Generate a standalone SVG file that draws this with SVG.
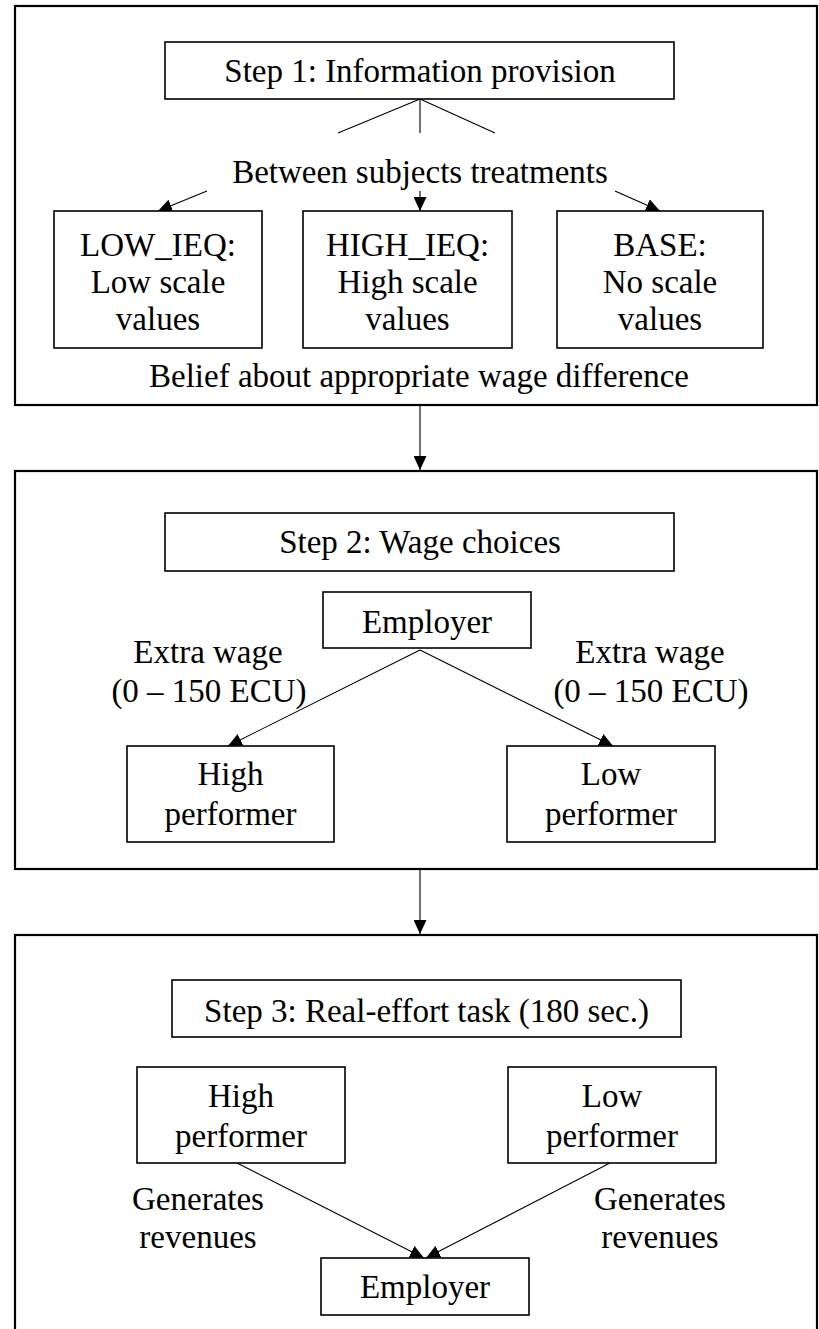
<svg xmlns="http://www.w3.org/2000/svg" width="819" height="1329" viewBox="0 0 819 1329">
<style>
.frame{fill:#fff;stroke:#000;stroke-width:2.2}
.box{fill:#fff;stroke:#000;stroke-width:1.6}
.t{font-family:"Liberation Serif","Times New Roman",serif;font-size:33px;fill:#000;text-anchor:middle}
.ln{stroke:#000;stroke-width:1.1;fill:none}
.ar{stroke:#000;stroke-width:1.1;fill:none;marker-end:url(#ah)}
</style>
<defs>
<marker id="ah" markerUnits="userSpaceOnUse" viewBox="0 0 14 13" refX="14" refY="6.5" markerWidth="14" markerHeight="13" orient="auto">
<path d="M0,0 L14,6.5 L0,13 z" fill="#000"/>
</marker>
</defs>
<g id="frame1"><rect class="frame" x="15" y="6" width="802" height="399"/></g>
<g id="frame2"><rect class="frame" x="15" y="471" width="802" height="398"/></g>
<g id="frame3"><rect class="frame" x="15" y="935" width="802" height="420"/></g>
<g id="connectors">
<line class="ln" x1="420" y1="99" x2="338" y2="133"/>
<line class="ln" x1="420" y1="99" x2="420" y2="133"/>
<line class="ln" x1="420" y1="99" x2="495" y2="133"/>
<line class="ar" x1="207" y1="191" x2="158" y2="211"/>
<line class="ar" x1="420" y1="191" x2="420" y2="211"/>
<line class="ar" x1="615" y1="191" x2="660" y2="211"/>
<line class="ar" x1="420" y1="405" x2="420" y2="470"/>
<line class="ar" x1="420" y1="650" x2="228" y2="746"/>
<line class="ar" x1="420" y1="650" x2="613" y2="746"/>
<line class="ar" x1="420" y1="869" x2="420" y2="934"/>
<line class="ar" x1="237" y1="1163" x2="424" y2="1258"/>
<line class="ar" x1="610" y1="1163" x2="426" y2="1258"/>
</g>
<g id="step1"><rect class="box" x="165" y="42" width="509" height="57"/><text class="t" x="420" y="82">Step 1: Information provision</text></g>
<g id="treatments-label"><text class="t" x="420" y="183">Between subjects treatments</text></g>
<g id="low-ieq"><rect class="box" x="54" y="211" width="208" height="137"/><text class="t" x="158" y="256">LOW_IEQ:</text><text class="t" x="158" y="293">Low scale</text><text class="t" x="158" y="330">values</text></g>
<g id="high-ieq"><rect class="box" x="303" y="211" width="209" height="137"/><text class="t" x="407.5" y="256">HIGH_IEQ:</text><text class="t" x="407.5" y="293">High scale</text><text class="t" x="407.5" y="330">values</text></g>
<g id="base"><rect class="box" x="557" y="211" width="206" height="137"/><text class="t" x="660" y="256">BASE:</text><text class="t" x="660" y="293">No scale</text><text class="t" x="660" y="330">values</text></g>
<g id="belief-label"><text class="t" x="419" y="387">Belief about appropriate wage difference</text></g>
<g id="step2"><rect class="box" x="165" y="513" width="509" height="58"/><text class="t" x="420" y="553">Step 2: Wage choices</text></g>
<g id="employer2"><rect class="box" x="323" y="592" width="208" height="56"/><text class="t" x="427" y="633">Employer</text></g>
<g id="wage-label-left"><text class="t" x="208" y="663">Extra wage</text><text class="t" x="209" y="702">(0 – 150 ECU)</text></g>
<g id="wage-label-right"><text class="t" x="650" y="663">Extra wage</text><text class="t" x="651" y="702">(0 – 150 ECU)</text></g>
<g id="high2"><rect class="box" x="127" y="746" width="207" height="96"/><text class="t" x="230.5" y="785">High</text><text class="t" x="230.5" y="825">performer</text></g>
<g id="low2"><rect class="box" x="507" y="746" width="208" height="96"/><text class="t" x="611" y="785">Low</text><text class="t" x="611" y="825">performer</text></g>
<g id="step3"><rect class="box" x="172" y="980" width="509" height="57"/><text class="t" x="426.5" y="1022">Step 3: Real-effort task (180 sec.)</text></g>
<g id="high3"><rect class="box" x="137" y="1067" width="208" height="96"/><text class="t" x="241" y="1107">High</text><text class="t" x="241" y="1147">performer</text></g>
<g id="low3"><rect class="box" x="508" y="1067" width="208" height="96"/><text class="t" x="612" y="1107">Low</text><text class="t" x="612" y="1147">performer</text></g>
<g id="rev-label-left"><text class="t" x="198" y="1210">Generates</text><text class="t" x="198" y="1248">revenues</text></g>
<g id="rev-label-right"><text class="t" x="660" y="1210">Generates</text><text class="t" x="660" y="1248">revenues</text></g>
<g id="employer3"><rect class="box" x="321" y="1258" width="208" height="57"/><text class="t" x="425" y="1298">Employer</text></g>
</svg>
